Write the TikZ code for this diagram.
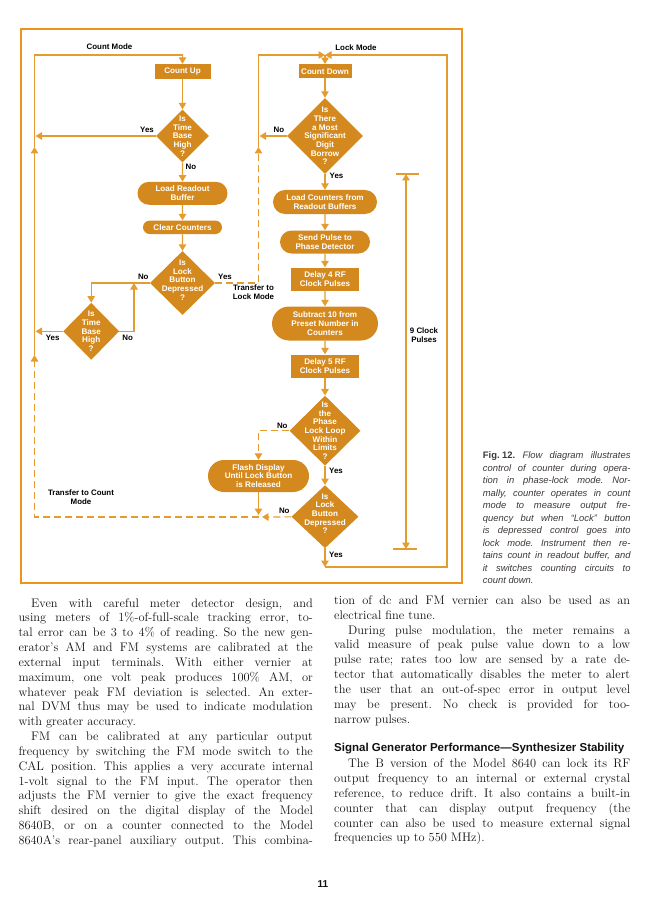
\documentclass[tikz,border=0pt]{standalone}
\usepackage{fontspec}
\setsansfont{Liberation Sans}
\usetikzlibrary{arrows.meta, shapes.geometric, shapes.misc}
\definecolor{hpbox}{RGB}{212,137,30}
\definecolor{hpline}{RGB}{228,156,48}
\definecolor{hpframe}{RGB}{236,148,28}
\definecolor{hptext}{RGB}{20,18,16}
\definecolor{capgray}{RGB}{60,56,54}
\tolerance=10000
\hyphenpenalty=10000
\exhyphenpenalty=10000
\frenchspacing

\begin{document}
\begin{tikzpicture}[x=1pt, y=-1pt, >={Triangle[length=6.5pt,width=7.5pt]},
    flow/.style={draw=hpline, line width=1.2pt},
    xfer/.style={dash pattern=on 7pt off 4pt},
    wtxt/.style={text=white, font=\sffamily\bfseries\fontsize{8.1}{8.7}\selectfont, align=center},
    rbox/.style={wtxt, fill=hpbox, rectangle, inner sep=0pt},
    pill/.style={wtxt, fill=hpbox, rounded rectangle, inner sep=0pt},
    dia/.style={fill=hpbox, diamond, inner sep=0pt},
    dtxt/.style={wtxt, inner sep=0pt},
    lbl/.style={text=black, font=\sffamily\bfseries\fontsize{7.9}{8.8}\selectfont, align=center, inner sep=0pt},
    body/.style={text=hptext, font=\fontsize{12.4}{14.84}\selectfont, align=justify, inner sep=0pt, anchor=base west}]
    \useasboundingbox (0,0) rectangle (650,904);
    \draw[hpframe, line width=2.6pt] (21,29) rectangle (462,583);

    \node[rbox, minimum width=56pt, minimum height=15pt] (cu) at (182.5,71.5) {Count Up};
    \node[dia, minimum width=53pt, minimum height=53pt, label={[dtxt]center:{Is\\Time\\Base\\High\\?}}] (tb1) at (182.5,136) {};
    \node[pill, minimum width=90pt, minimum height=23pt] (rb) at (182.5,193.3) {Load Readout\\Buffer};
    \node[pill, minimum width=79pt, minimum height=13.5pt] (cc) at (182.5,227.3) {Clear Counters};
    \node[dia, minimum width=65pt, minimum height=64pt, label={[dtxt, yshift=3pt]center:{Is\\Lock\\Button\\Depressed\\?}}] (lb1) at (182.5,283) {};
    \node[dia, minimum width=56pt, minimum height=57pt, label={[dtxt]center:{Is\\Time\\Base\\High\\?}}] (tb2) at (91.2,331.3) {};

    \node[rbox, minimum width=53pt, minimum height=14pt] (cd) at (325,71.3) {Count Down};
    \node[dia, minimum width=76pt, minimum height=76pt, label={[dtxt]center:{Is\\There\\a Most\\Significant\\Digit\\Borrow\\?}}] (msd) at (325,136) {};
    \node[pill, minimum width=104pt, minimum height=24pt] (lc) at (325,202) {Load Counters from\\Readout Buffers};
    \node[pill, minimum width=90pt, minimum height=23pt] (sp) at (325,242) {Send Pulse to\\Phase Detector};
    \node[rbox, minimum width=68pt, minimum height=23pt] (d4) at (325,279) {Delay 4 RF\\Clock Pulses};
    \node[pill, minimum width=106pt, minimum height=34pt] (sub) at (325,323.5) {Subtract 10 from\\Preset Number in\\Counters};
    \node[rbox, minimum width=68pt, minimum height=23pt] (d5) at (325,366) {Delay 5 RF\\Clock Pulses};
    \node[dia, minimum width=71pt, minimum height=70pt, label={[dtxt]center:{Is\\the\\Phase\\Lock Loop\\Within\\Limits\\?}}] (pl) at (325,430.7) {};
    \node[pill, minimum width=101pt, minimum height=32pt] (fd) at (258.5,476) {Flash Display\\Until Lock Button\\is Released};
    \node[dia, minimum width=67pt, minimum height=63pt, label={[dtxt, yshift=3pt]center:{Is\\Lock\\Button\\Depressed\\?}}] (lb2) at (325,516.7) {};

    \node[lbl] (cmode) at (109.5,47) {Count Mode};
    \node[lbl] (lmode) at (356,47.7) {Lock Mode};
    \node[lbl] (y1) at (147,130) {Yes};
    \node[lbl] (n1) at (191,166.7) {No};
    \node[lbl] (n2) at (143.3,276.7) {No};
    \node[lbl] (y2) at (225,276.7) {Yes};
    \node[lbl] (tlm) at (253.5,292.5) {Transfer to\\Lock Mode};
    \node[lbl] (y3) at (52.7,337.7) {Yes};
    \node[lbl] (n3) at (127.7,337.7) {No};
    \node[lbl] (n4) at (279,130) {No};
    \node[lbl] (y4) at (336.5,175.7) {Yes};
    \node[lbl] (n5) at (282.3,425.7) {No};
    \node[lbl] (y5) at (336,470.7) {Yes};
    \node[lbl] (n6) at (284.3,510.7) {No};
    \node[lbl] (y6) at (336,555) {Yes};
    \node[lbl] (tcm) at (81,497.5) {Transfer to Count\\Mode};
    \node[lbl] (nine) at (424,335) {9 Clock\\Pulses};

    \coordinate (cm) at (34.5,55);
    \coordinate (ya) at (35.5,136);
    \coordinate (ua) at (34.5,147);
    \coordinate (yb) at (35.5,331.3);
    \coordinate (ub) at (34.5,355);
    \coordinate (bl) at (34.5,517);
    \coordinate (br) at (258.5,517);
    \coordinate (fb) at (258.5,515);
    \coordinate (nb) at (262,517);
    \coordinate (j2) at (134,283);
    \coordinate (t1) at (258.5,283);
    \coordinate (t1u) at (258.5,147);
    \coordinate (ma) at (259.5,136);
    \coordinate (tl) at (258.5,55);
    \coordinate (lm) at (325,55);
    \coordinate (bm) at (325,567);
    \coordinate (cr1) at (447,567);
    \coordinate (cr2) at (447,55);
    \coordinate (k1) at (406,174);
    \coordinate (k2) at (406,549);

    \draw[flow,->] (cu) -- (tb1);
    \draw[flow,->] (tb1) -- (rb);
    \draw[flow,->] (rb) -- (cc);
    \draw[flow,->] (cc) -- (lb1);
    \draw[flow,->] (tb1) -- (ya);
    \draw[flow,->] (lb1) -| (tb2);
    \draw[flow,->] (tb2) -| (j2);
    \draw[flow,->] (tb2) -- (yb);
    \draw[flow,xfer,->] (lb1) -- (t1) -- (t1u);
    \draw[flow,->] (msd) -- (ma);
    \draw[flow,->] (t1u) -- (tl) -- (lm);
    \draw[flow,->] (ua) -- (cm) -| (cu);
    \draw[flow,->] (ub) -- (ua);
    \draw[flow,xfer,->] (br) -- (bl) -- (ub);
    \draw[flow,->] (lm) -- (cd);
    \draw[flow,->] (cd) -- (msd);
    \draw[flow,->] (msd) -- (lc);
    \draw[flow,->] (lc) -- (sp);
    \draw[flow,->] (sp) -- (d4);
    \draw[flow,->] (d4) -- (sub);
    \draw[flow,->] (sub) -- (d5);
    \draw[flow,->] (d5) -- (pl);
    \draw[flow,->] (pl) -- (lb2);
    \draw[flow,xfer,->] (pl) -| (fd);
    \draw[flow,->] (fd) -- (fb);
    \draw[flow,xfer,->] (lb2) -- (nb);
    \draw[flow,->] (lb2) -- (bm);
    \draw[flow,->] (bm) -- (cr1) -- (cr2) -- (lm);
    \draw[flow,<->] (k1) -- (k2);
    \draw[flow] ([xshift=-10pt]k1) -- ([xshift=13pt]k1);
    \draw[flow] ([xshift=-13pt]k2) -- ([xshift=11pt]k2);

    \node[body, text width=147.6pt, font=\sffamily\fontsize{9.4}{12.5}\selectfont, text=capgray] (cap) at (482.7,458.7) {\mbox{\textbf{Fig. 12.}} \textit{Flow diagram illustrates\linebreak control of counter during opera-\linebreak tion in phase-lock mode. Nor-\linebreak mally, counter operates in count\linebreak mode to measure output fre-\linebreak quency but when ``Lock'' button\linebreak is depressed control goes into\linebreak lock mode. Instrument then re-\linebreak tains count in readout buffer, and\linebreak it switches counting circuits to\linebreak count down.}};

    \node[body, text width=294.4pt] (colL) at (18.3,607) {\hspace*{12.7pt}Even with careful meter detector design, and\linebreak using meters of 1\%-of-full-scale tracking error, to-\linebreak tal error can be 3 to 4\% of reading. So the new gen-\linebreak erator's AM and FM systems are calibrated at the\linebreak external input terminals. With either vernier at\linebreak maximum, one volt peak produces 100\% AM, or\linebreak whatever peak FM deviation is selected. An exter-\linebreak nal DVM thus may be used to indicate modulation\linebreak with greater accuracy.\par
    \hspace*{12.7pt}FM can be calibrated at any particular output\linebreak frequency by switching the FM mode switch to the\linebreak CAL position. This applies a very accurate internal\linebreak 1-volt signal to the FM input. The operator then\linebreak adjusts the FM vernier to give the exact frequency\linebreak shift desired on the digital display of the Model\linebreak 8640B, or on a counter connected to the Model\linebreak 8640A's rear-panel auxiliary output. This combina-\parfillskip=0pt\par};

    \node[body, text width=296pt] (colR) at (334,604.4) {tion of dc and FM vernier can also be used as an\linebreak electrical fine tune.\par
    \hspace*{14pt}During pulse modulation, the meter remains a\linebreak valid measure of peak pulse value down to a low\linebreak pulse rate; rates too low are sensed by a rate de-\linebreak tector that automatically disables the meter to alert\linebreak the user that an out-of-spec error in output level\linebreak may be present. No check is provided for too-\linebreak narrow pulses.};
    \node[anchor=base west, inner sep=0pt, text=hptext, font=\sffamily\bfseries\fontsize{11.5}{13}\selectfont] (head) at (334,751.8) {Signal Generator Performance---Synthesizer Stability};
    \node[body, text width=296pt] (colR2) at (334,767.7) {\hspace*{14pt}The B version of the Model 8640 can lock its RF\linebreak output frequency to an internal or external crystal\linebreak reference, to reduce drift. It also contains a built-in\linebreak counter that can display output frequency (the\linebreak counter can also be used to measure external signal\linebreak frequencies up to 550 MHz).};

    \node[inner sep=0pt, text=hptext, font=\sffamily\bfseries\fontsize{10}{12}\selectfont] (pg) at (323,884) {11};
\end{tikzpicture}
\end{document}
